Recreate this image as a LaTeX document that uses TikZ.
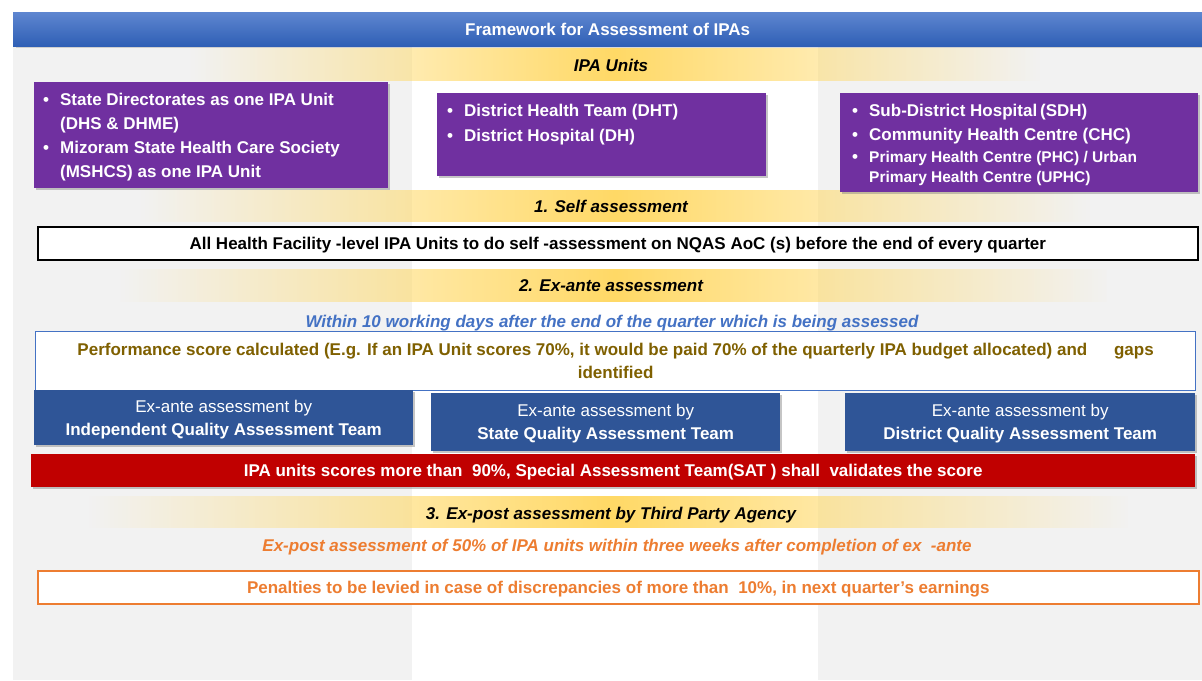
\documentclass[tikz,border=0pt]{standalone}
\usepackage{fontspec}
\setmainfont{Liberation Sans}
\usetikzlibrary{shadows,fadings}
\definecolor{bggray}{HTML}{F2F2F2}
\definecolor{bandyellow}{HTML}{FFD966}
\definecolor{unitpurple}{HTML}{7030A0}
\definecolor{teamblue}{HTML}{2F5597}
\definecolor{linkblue}{HTML}{4472C4}
\definecolor{satred}{HTML}{C00000}
\definecolor{tpaorange}{HTML}{ED7D31}
\definecolor{scoreolive}{HTML}{7F6000}
\definecolor{bartop}{HTML}{5E86D0}
\definecolor{barbottom}{HTML}{2F5FB5}
\tikzfading[name=fade sides,left color=transparent!100,right color=transparent!100,middle color=transparent!0]
\tikzset{
  band/.style={fill=bandyellow,path fading=fade sides},
  head/.style={text depth=0pt,font=\fontsize{17}{20}\selectfont\bfseries\itshape},
  unitbox/.style={fill=unitpurple,anchor=north west,inner sep=0pt,drop shadow={shadow xshift=2pt,shadow yshift=-2pt,opacity=.45}},
  unittext/.style={anchor=north west,inner sep=0pt,text=white,font=\fontsize{17}{20}\selectfont\bfseries},
  teambox/.style={fill=teamblue,anchor=north west,inner sep=0pt,text=white,align=center,text depth=0pt,font=\fontsize{17}{23}\selectfont,drop shadow={shadow xshift=2pt,shadow yshift=-2pt,opacity=.45}},
  linebox/.style={draw=#1,fill=white,anchor=north west,inner sep=0pt,text depth=0pt,line width=1.6pt},
}
\newcommand\unitlist[1]{\begin{tabular}{@{}l@{\hspace{11pt}}l@{}}#1\end{tabular}}
\begin{document}
\begin{tikzpicture}[x=1pt,y=-1pt]
\useasboundingbox (0,0) rectangle (1202,680);
\fill[bggray] (13,46) rectangle (1202,680);
\fill[white] (412,46) rectangle (818,680);
\node[anchor=north west,minimum width=1189pt,minimum height=34pt,inner sep=0pt,top color=bartop,bottom color=barbottom,text depth=0pt,
  text=white,font=\fontsize{17}{20}\selectfont\bfseries,drop shadow={shadow yshift=-2pt,opacity=.3}] (title) at (13,12) {Framework for Assessment of IPAs};
% yellow headings
\fill[band] (190,48) rectangle (1040,81);
\fill[band] (140,190) rectangle (1090,222);
\fill[band] (120,269) rectangle (1110,302);
\fill[band] (90,496) rectangle (1130,528);
\node[head] (unitshead) at (611,65) {IPA Units};
\node[head] (selfhead) at (611,206) {1. Self assessment};
\node[head] (exantehead) at (611,286) {2. Ex-ante assessment};
\node[head] (exposthead) at (611,513) {3. Ex-post assessment by Third Party Agency};
% IPA units
\node[unitbox,minimum width=354pt,minimum height=106pt] (stateunit) at (34,82) {};
\node[unitbox,minimum width=329pt,minimum height=83pt] (districtunit) at (437,93) {};
\node[unitbox,minimum width=358pt,minimum height=99pt] (facilityunit) at (840,93) {};
\node[unittext] (statetext) at ([shift={(9,9)}]stateunit.north west) {\unitlist{%
  \textbullet & State Directorates as one IPA Unit\\[4pt] & (DHS \& DHME)\\[4pt]
  \textbullet & Mizoram State Health Care Society\\[4pt] & (MSHCS) as one IPA Unit}};
\node[unittext] (districttext) at ([shift={(10,9)}]districtunit.north west) {\unitlist{%
  \textbullet & District Health Team (DHT)\\[5pt]
  \textbullet & District Hospital (DH)}};
\node[unittext] (facilitytext) at ([shift={(12,9)}]facilityunit.north west) {\unitlist{%
  \textbullet & Sub-District Hospital\,(SDH)\\[4pt]
  \textbullet & Community Health Centre (CHC)\\[2pt]
  \textbullet & \fontsize{15.5}{18}\selectfont Primary Health Centre (PHC) / Urban\\
  & \fontsize{15.5}{18}\selectfont Primary Health Centre (UPHC)}};
% self assessment
\node[linebox=black,minimum width=1160pt,minimum height=33pt,font=\fontsize{17}{20}\selectfont\bfseries] (selfbox) at (37,226)
  {All Health Facility -level IPA Units to do self -assessment on NQAS AoC (s) before the end of every quarter};
% ex-ante assessment
\node[head,text=linkblue] (exantetime) at (612,321) {Within 10 working days after the end of the quarter which is being assessed};
\node[linebox=linkblue,line width=1.2pt,minimum width=1160pt,minimum height=59pt,text=scoreolive,align=center,
  font=\fontsize{17}{23}\selectfont\bfseries] (scorebox) at (35,331)
  {Performance score calculated (E.g. If an IPA Unit scores 70\%, it would be paid 70\% of the quarterly IPA budget allocated) and\hspace{22pt} gaps\\identified};
\node[teambox,minimum width=379pt,minimum height=55pt] (iqat) at (34,390) {Ex-ante assessment by\\\textbf{Independent Quality Assessment Team}};
\node[teambox,minimum width=349pt,minimum height=58pt] (sqat) at (431,393) {Ex-ante assessment by\\\textbf{State Quality Assessment Team}};
\node[teambox,minimum width=350pt,minimum height=58pt] (dqat) at (845,393) {Ex-ante assessment by\\\textbf{District Quality Assessment Team}};
\node[anchor=north west,minimum width=1164pt,minimum height=33pt,inner sep=0pt,fill=satred,text=white,text depth=0pt,font=\fontsize{17}{20}\selectfont\bfseries,
  drop shadow={shadow xshift=2pt,shadow yshift=-2pt,opacity=.45}] (satbar) at (31,454)
  {IPA units scores more than\ \ 90\%,\ Special Assessment Team(SAT\ ) shall\ \ validates the score};
% ex-post assessment
\node[head,text=tpaorange] (exposttime) at (617,545) {Ex-post assessment of 50\% of IPA units within three weeks after completion of ex\ \ -ante};
\node[linebox=tpaorange,minimum width=1161pt,minimum height=33pt,text=tpaorange,font=\fontsize{17}{20}\selectfont\bfseries] (penaltybox) at (37,570)
  {Penalties to be levied in case of discrepancies of more than\ \ 10\%, in next quarter’s earnings};
\end{tikzpicture}
\end{document}
